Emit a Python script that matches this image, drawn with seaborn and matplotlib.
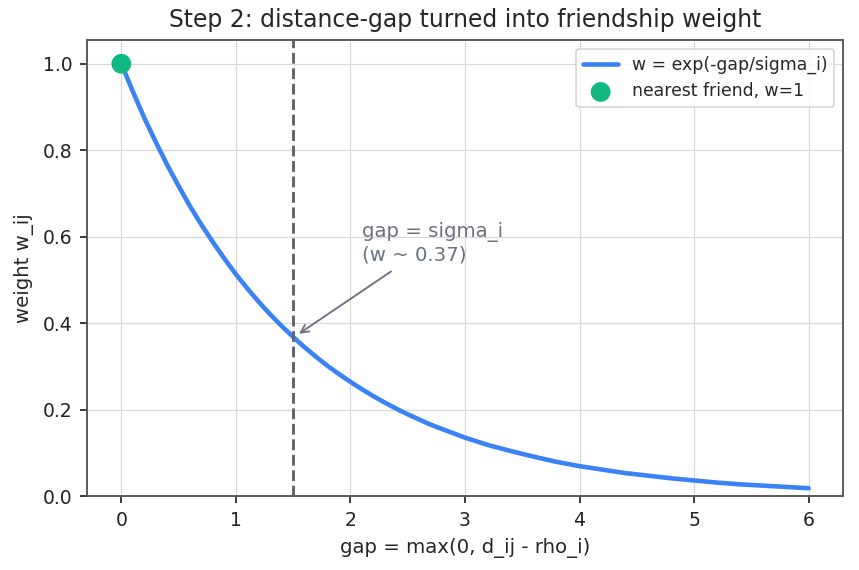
import matplotlib
matplotlib.use("Agg")
import matplotlib.pyplot as plt
import seaborn as sns
import pandas as pd

# Values
gap = [0.0, 0.1, 0.2, 0.3, 0.4, 0.5, 0.6, 0.7, 0.8, 0.9, 1.0, 1.1, 1.2, 1.3, 1.4, 1.5,
       1.6, 1.7, 1.8, 1.9, 2.0, 2.1, 2.2, 2.3, 2.4, 2.5, 2.6, 2.7, 2.8, 2.9, 3.0,
       3.2, 3.4, 3.6, 3.8, 4.0, 4.2, 4.4, 4.6, 4.8, 5.0, 5.2, 5.4, 5.6, 5.8, 6.0]
weight = [1.000, 0.936, 0.875, 0.819, 0.766, 0.717, 0.670, 0.627, 0.587, 0.549, 0.513,
          0.480, 0.449, 0.420, 0.393, 0.368, 0.344, 0.322, 0.301, 0.282, 0.264, 0.247,
          0.231, 0.216, 0.202, 0.189, 0.177, 0.165, 0.155, 0.145, 0.135,
          0.118, 0.104, 0.091, 0.079, 0.069, 0.061, 0.053, 0.047, 0.041, 0.036,
          0.031, 0.027, 0.024, 0.021, 0.018]
sigma_i = 1.5
nearest_gap = [0.0]
nearest_w = [1.0]

sns.set_theme(style="ticks")
plt.rcParams["font.family"] = ["DejaVu Sans"]

fig, ax = plt.subplots(figsize=(8.59 / 1.5, 5.70 / 1.5), dpi=150)
fig.subplots_adjust(left=87 / 859, right=843 / 859, top=1 - 40 / 570, bottom=1 - 496 / 570)

df = pd.DataFrame({"gap": gap, "weight": weight})
sns.lineplot(data=df, x="gap", y="weight", ax=ax, color="#3b82f6", linewidth=2.2,
             label="w = exp(-gap/sigma_i)")
sns.scatterplot(x=nearest_gap, y=nearest_w, ax=ax, color="#10b981", s=90, zorder=5,
                edgecolor="none", label="nearest friend, w=1")
ax.axvline(sigma_i, color="#5f6470", linestyle="--", linewidth=1.4)
ax.annotate("gap = sigma_i\n(w ~ 0.37)", xy=(1.52, 0.37), xytext=(2.1, 0.545),
            color="#6b7280", fontsize=9.5,
            arrowprops=dict(arrowstyle="->", color="#6b7280", lw=0.9))

ax.set_ylim(0, 1.055)
ax.grid(True, color="#d9d9d9", linewidth=0.6)
ax.set_axisbelow(True)
for s in ax.spines.values():
    s.set_color("#555555")
    s.set_linewidth(0.9)
ax.tick_params(colors="#222222", labelsize=9, width=0.9, length=3.5)
ax.tick_params(axis="both", color="#333333")
ax.set_xlabel("gap = max(0, d_ij - rho_i)", fontsize=9.5)
ax.set_ylabel("weight w_ij", fontsize=9.5)
ax.set_title("Step 2: distance-gap turned into friendship weight", fontsize=11.3)
leg = ax.legend(loc="upper right", fontsize=8.3, frameon=True)
leg.get_frame().set_linewidth(0.8)

fig.savefig("out.png", dpi=150)
